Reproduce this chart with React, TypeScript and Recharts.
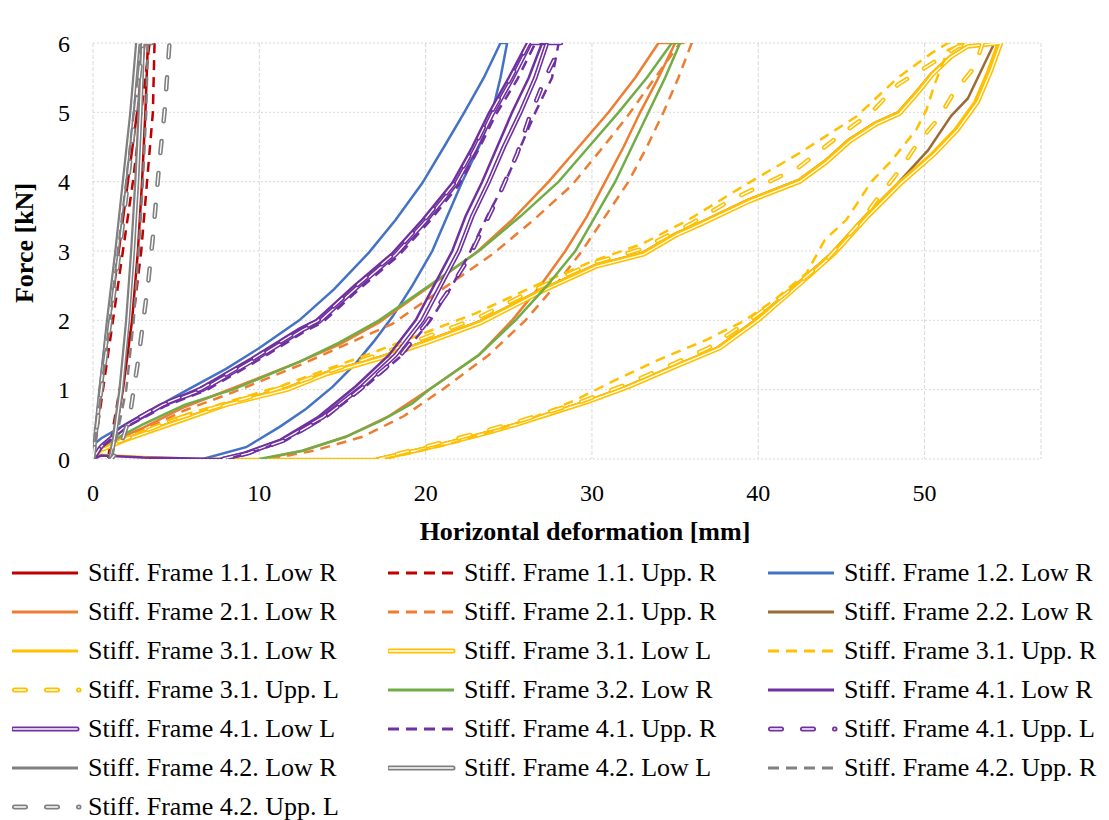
import React from 'react';
import { LineChart, Line, XAxis, YAxis, CartesianGrid } from 'recharts';

const SERIF = "'Liberation Serif', 'Times New Roman', Times, serif";

// [horizontal deformation mm, force kN] pairs
const frame11LowR = [[0, 0], [0.5, 1], [1.0, 2], [1.55, 3], [2.1, 4], [2.65, 5], [3.1, 6], [3.3, 6], [3.15, 5], [2.95, 4], [2.7, 3], [2.35, 2], [1.8, 1], [1.3, 0.3], [1.0, 0]];
const frame11UppR = [[0, 0], [0.6, 1], [1.2, 2], [1.8, 3], [2.4, 4], [2.9, 5], [3.4, 6], [3.7, 6], [3.6, 5], [3.25, 4], [2.9, 3], [2.4, 2], [1.6, 1], [1.1, 0.3], [0.9, 0]];
const frame12LowR = [[0, 0.2], [0.5, 0.3], [2.4, 0.56], [5.7, 1.0], [8, 1.3], [10, 1.6], [12.4, 2.0], [14.5, 2.45], [16.6, 2.98], [18.2, 3.45], [19.8, 3.98], [21.1, 4.5], [22.3, 4.99], [23.5, 5.5], [24.5, 6.0], [24.9, 6.0], [24.5, 5.5], [24.0, 5.0], [23.2, 4.5], [22.2, 4.0], [21.3, 3.5], [20.4, 3.0], [19.2, 2.5], [18.0, 2.05], [16.9, 1.7], [15.8, 1.38], [14.4, 1.04], [12.8, 0.72], [11.2, 0.46], [9.2, 0.17], [6.6, 0]];
const frame21LowR = [[0, 0], [0.4, 0.17], [3, 0.45], [5.5, 0.75], [8.4, 1.02], [12.4, 1.4], [14.8, 1.65], [17.2, 1.97], [20, 2.45], [23, 2.97], [25.2, 3.45], [27.4, 4.0], [29.2, 4.5], [31.0, 5.0], [32.6, 5.5], [34.0, 6.0], [35.0, 6.0], [34.0, 5.5], [32.9, 5.0], [31.9, 4.5], [30.8, 4.0], [29.7, 3.5], [28.4, 3.0], [26.9, 2.5], [25.2, 2.0], [23.2, 1.5], [20.2, 1.0], [17.8, 0.62], [15.2, 0.32], [12.6, 0.12], [10.2, 0]];
const frame21UppR = [[0, 0], [0.4, 0.15], [3, 0.42], [5.5, 0.7], [8.4, 0.96], [12.4, 1.35], [15.2, 1.65], [18, 1.95], [21, 2.45], [24, 2.95], [26.5, 3.45], [28.8, 3.95], [30.5, 4.45], [32, 4.9], [33.8, 5.5], [35.3, 6.0], [36.0, 6.0], [35.2, 5.5], [34.3, 5.0], [33.3, 4.5], [32.2, 4.0], [30.8, 3.5], [29.4, 3.0], [27.8, 2.5], [26.0, 2.0], [23.8, 1.5], [21.0, 1.0], [18.7, 0.62], [16.2, 0.32], [13.3, 0.12], [10.6, 0]];
const frame22LowR = [[0, 0.03], [0.4, 0.13], [2, 0.3], [5, 0.55], [8, 0.8], [11.6, 1.02], [14, 1.25], [17.2, 1.47], [20, 1.7], [23.2, 1.98], [25, 2.2], [27, 2.45], [30.2, 2.8], [33, 2.97], [35, 3.25], [36.4, 3.4], [39.4, 3.74], [42.4, 4.02], [44, 4.3], [45.4, 4.6], [47, 4.85], [48.4, 5.0], [49.5, 5.3], [50.4, 5.56], [51.5, 5.8], [52.5, 5.95], [54.2, 6.0], [53.6, 5.7], [52.6, 5.2], [51.6, 4.95], [50.2, 4.45], [48.4, 3.98], [46.4, 3.5], [44.4, 2.97], [42.2, 2.5], [39.8, 2.0], [37.5, 1.6], [35, 1.35], [32, 1.04], [29.5, 0.82], [27.4, 0.66], [25.3, 0.5], [23.4, 0.37], [21.3, 0.24], [19.4, 0.13], [17, 0]];
const frame31LowR = [[0, 0.03], [0.4, 0.13], [2, 0.3], [5, 0.55], [8, 0.8], [11.6, 1.02], [14, 1.25], [17.2, 1.47], [20, 1.7], [23.2, 1.98], [25, 2.2], [27, 2.45], [30.2, 2.8], [33, 2.97], [35, 3.25], [36.4, 3.4], [39.4, 3.74], [42.4, 4.02], [44, 4.3], [45.4, 4.6], [47, 4.85], [48.4, 5.0], [49.5, 5.3], [50.4, 5.56], [51.5, 5.8], [52.5, 5.95], [54.4, 6.0], [53.8, 5.6], [53.0, 5.15], [51.8, 4.75], [50.4, 4.4], [48.4, 3.98], [46.4, 3.5], [44.4, 2.97], [42.2, 2.5], [39.8, 2.0], [37.5, 1.6], [35, 1.35], [32, 1.04], [29.5, 0.82], [27.4, 0.66], [25.3, 0.5], [23.4, 0.37], [21.3, 0.24], [19.4, 0.13], [17, 0], [12, 0], [6.4, 0], [3, 0.03], [0.4, 0.06], [0, 0.03]];
const frame31LowL = [[0, 0.02], [0.4, 0.12], [2, 0.28], [5, 0.53], [8, 0.78], [11.7, 1.0], [14.1, 1.23], [17.3, 1.45], [20.1, 1.68], [23.3, 1.96], [25.1, 2.18], [27.1, 2.43], [30.3, 2.78], [33.1, 2.95], [35.1, 3.23], [36.5, 3.38], [39.5, 3.72], [42.5, 4.0], [44.1, 4.28], [45.5, 4.58], [47.1, 4.83], [48.5, 4.98], [49.6, 5.28], [50.5, 5.55], [51.6, 5.8], [52.6, 5.95], [54.6, 6.0], [54.0, 5.6], [53.2, 5.15], [52.0, 4.75], [50.6, 4.4], [48.6, 3.98], [46.6, 3.5], [44.6, 2.97], [42.4, 2.5], [40.0, 2.0], [37.7, 1.6], [35.2, 1.35], [32.2, 1.04], [29.7, 0.82], [27.6, 0.66], [25.5, 0.5], [23.6, 0.37], [21.5, 0.24], [19.6, 0.13], [17.2, 0]];
const frame31UppR = [[0, 0], [0.4, 0.15], [5, 0.6], [11.4, 1.06], [17, 1.55], [23, 2.1], [26.4, 2.48], [30, 2.85], [33, 3.1], [35.8, 3.45], [39.4, 3.98], [42.4, 4.4], [45.9, 4.94], [48.4, 5.5], [50.4, 5.85], [51.4, 6.0], [52.4, 6.0], [51.4, 5.9], [50.6, 5.4], [50.1, 5.03], [49.5, 4.75], [48, 4.3], [46.8, 4.0], [45.3, 3.45], [44, 3.16], [42.9, 2.68], [41, 2.3], [39.2, 2.0], [36.9, 1.72], [34, 1.43], [31.5, 1.15], [29, 0.85], [26.5, 0.6], [24, 0.4], [21.5, 0.22], [19, 0.08], [17.5, 0]];
const frame31UppL = [[0, 0], [0.4, 0.14], [5, 0.58], [11.5, 1.04], [17.1, 1.5], [23.1, 2.03], [26.6, 2.45], [30.1, 2.83], [33, 3.03], [36, 3.4], [38.4, 3.74], [42.4, 4.2], [44.8, 4.65], [46.8, 5.0], [48.4, 5.4], [50.8, 5.76], [52, 5.95], [53.5, 6.0], [53, 5.65], [51.8, 5.3], [50.8, 4.9], [49.6, 4.56], [48.6, 4.2], [47, 3.7], [45.9, 3.35], [44.2, 2.9], [42, 2.45], [39.6, 2.02], [37, 1.6], [34.5, 1.33], [32, 1.07], [29.5, 0.84], [27.2, 0.66], [25, 0.5], [23.2, 0.38], [21, 0.24], [19.2, 0.13], [17.2, 0]];
const frame32LowR = [[0, 0], [0.4, 0.17], [3, 0.5], [5.5, 0.78], [8.4, 1.0], [12.4, 1.4], [14.8, 1.68], [17.2, 2.0], [20.2, 2.5], [23.2, 3.0], [25.7, 3.5], [28.0, 4.0], [29.8, 4.5], [31.6, 5.0], [33.3, 5.5], [34.8, 6.0], [35.3, 6.0], [34.4, 5.5], [33.4, 5.0], [32.4, 4.5], [31.4, 4.0], [30.2, 3.5], [29.0, 3.0], [27.3, 2.5], [25.4, 2.0], [23.2, 1.5], [20.2, 1.0], [19.2, 0.8], [17.3, 0.55], [15.2, 0.32], [12.6, 0.12], [10.0, 0]];
const frame41LowR = [[0, 0], [0.5, 0.2], [2, 0.5], [4, 0.78], [6.4, 1.02], [9.5, 1.45], [12.4, 1.88], [13.4, 2.0], [15.7, 2.5], [18, 2.97], [19.8, 3.45], [21.6, 3.98], [22.8, 4.5], [23.8, 4.99], [25, 5.5], [26.1, 6.0], [27.0, 6.0], [26.2, 5.5], [25.2, 5.0], [24.3, 4.5], [23.4, 4.0], [22.4, 3.5], [21.6, 3.0], [20.5, 2.5], [19.4, 2.0], [17.8, 1.5], [15.8, 1.05], [13.5, 0.6], [11.2, 0.27], [9, 0.08], [7.6, 0], [3, 0.02], [0.5, 0.05], [0, 0]];
const frame41LowL = [[0, 0], [0.5, 0.18], [2, 0.48], [4.2, 0.78], [6.6, 1.0], [9.7, 1.43], [12.6, 1.86], [13.6, 1.98], [15.9, 2.48], [18.2, 2.95], [20.0, 3.43], [21.8, 3.96], [23.0, 4.48], [24.0, 4.97], [25.2, 5.48], [26.3, 6.0], [27.3, 6.0], [26.6, 5.5], [25.7, 5.0], [24.7, 4.5], [23.8, 4.0], [22.8, 3.5], [22.0, 3.0], [20.9, 2.5], [19.8, 2.0], [18.2, 1.5], [16.2, 1.05], [13.8, 0.6], [11.4, 0.27], [9.2, 0.08], [7.8, 0]];
const frame41UppR = [[0, 0], [0.5, 0.17], [2, 0.46], [4.3, 0.76], [6.8, 0.99], [9.9, 1.42], [12.8, 1.85], [13.8, 1.97], [16.1, 2.47], [18.4, 2.94], [20.2, 3.42], [22.0, 3.95], [23.2, 4.47], [24.2, 4.96], [25.5, 5.47], [26.6, 6.0], [28.0, 6.0], [27.6, 5.5], [26.6, 5.0], [25.7, 4.5], [24.8, 4.0], [23.7, 3.5], [22.7, 3.0], [21.6, 2.5], [20.3, 2.0], [18.6, 1.5], [16.4, 1.05], [14.0, 0.6], [11.6, 0.27], [9.4, 0.08], [8.0, 0]];
const frame41UppL = [[0, 0], [0.5, 0.19], [2, 0.49], [4.1, 0.78], [6.5, 1.01], [9.6, 1.44], [12.5, 1.87], [13.5, 1.99], [15.8, 2.49], [18.1, 2.96], [19.9, 3.44], [21.7, 3.97], [22.9, 4.49], [23.9, 4.98], [25.1, 5.49], [26.2, 6.0], [28.2, 6.0], [27.2, 5.5], [26.2, 4.9], [25.5, 4.4], [24.5, 3.85], [23.6, 3.4], [22.6, 2.9], [21.3, 2.4], [20.0, 1.95], [18.5, 1.5], [16.3, 1.05], [13.9, 0.6], [11.5, 0.27], [9.3, 0.08], [7.9, 0]];
const frame42LowR = [[0, 0], [0.4, 1], [0.85, 2], [1.35, 3], [1.8, 4], [2.25, 5], [2.6, 6], [2.9, 6], [2.75, 5], [2.55, 4], [2.3, 3], [2.0, 2], [1.6, 1], [1.2, 0.3], [1.0, 0]];
const frame42LowL = [[0, 0], [0.45, 1], [0.95, 2], [1.45, 3], [1.9, 4], [2.35, 5], [2.7, 6], [3.0, 6], [2.85, 5], [2.65, 4], [2.4, 3], [2.1, 2], [1.7, 1], [1.3, 0.3], [1.05, 0]];
const frame42UppR = [[0, 0], [0.5, 1], [1.0, 2], [1.5, 3], [2.0, 4], [2.45, 5], [2.9, 6], [3.3, 6], [3.2, 5], [3.0, 4], [2.75, 3], [2.45, 2], [2.0, 1], [1.4, 0.3], [1.1, 0]];
const frame42UppL = [[0, 0], [0.5, 1], [1.05, 2], [1.6, 3], [2.1, 4], [2.55, 5], [3.0, 6], [4.6, 6], [4.3, 5], [4.0, 4.3], [3.6, 3.2], [3.3, 2.5], [2.7, 1.4], [2.2, 0.6], [1.6, 0.15], [1.1, 0]];

const seriesNames = [
  'Stiff. Frame 1.1. Low R', 'Stiff. Frame 1.1. Upp. R', 'Stiff. Frame 1.2. Low R',
  'Stiff. Frame 2.1. Low R', 'Stiff. Frame 2.1. Upp. R', 'Stiff. Frame 2.2. Low R',
  'Stiff. Frame 3.1. Low R', 'Stiff. Frame 3.1. Low L', 'Stiff. Frame 3.1. Upp. R',
  'Stiff. Frame 3.1. Upp. L', 'Stiff. Frame 3.2. Low R', 'Stiff. Frame 4.1. Low R',
  'Stiff. Frame 4.1. Low L', 'Stiff. Frame 4.1. Upp. R', 'Stiff. Frame 4.1. Upp. L',
  'Stiff. Frame 4.2. Low R', 'Stiff. Frame 4.2. Low L', 'Stiff. Frame 4.2. Upp. R',
  'Stiff. Frame 4.2. Upp. L',
];
const seriesColors = [
  '#C00000', '#C00000', '#4472C4',
  '#ED7D31', '#ED7D31', '#9C6B35',
  '#FFC000', '#FFC000', '#FFC000',
  '#FFC000', '#70AD47', '#7030A0',
  '#7030A0', '#7030A0', '#7030A0',
  '#808080', '#808080', '#808080',
  '#808080',
];
const seriesStyles = [
  'solid', 'dash', 'solid',
  'solid', 'dash', 'solid',
  'solid', 'double', 'dash',
  'doubleDash', 'solid', 'solid',
  'double', 'dash', 'doubleDash',
  'solid', 'double', 'dash',
  'doubleDash',
];
const seriesPoints = [
  frame11LowR, frame11UppR, frame12LowR,
  frame21LowR, frame21UppR, frame22LowR,
  frame31LowR, frame31LowL, frame31UppR,
  frame31UppL, frame32LowR, frame41LowR,
  frame41LowL, frame41UppR, frame41UppL,
  frame42LowR, frame42LowL, frame42UppR,
  frame42UppL,
];

const xTicks = [0, 10, 20, 30, 40, 50];
const yTicks = [0, 1, 2, 3, 4, 5, 6];

const series = seriesNames.map((name, i) => ({
  name,
  color: seriesColors[i],
  style: seriesStyles[i],
  data: seriesPoints[i].map(([x, y]) => ({ x, y })),
}));

const renderLines = () =>
  series.flatMap((s, i) => {
    const common = { data: s.data, dataKey: 'y', type: 'linear' as const, dot: false, activeDot: false, isAnimationActive: false, legendType: 'none' as const };
    if (s.style === 'solid') {
      return [<Line key={i} {...common} stroke={s.color} strokeWidth={2.5} />];
    }
    if (s.style === 'dash') {
      return [<Line key={i} {...common} stroke={s.color} strokeWidth={2.5} strokeDasharray="10 7" />];
    }
    const dash = s.style === 'doubleDash' ? '12 20' : undefined;
    const cap = s.style === 'doubleDash' ? 'round' : 'butt';
    return [
      <Line key={i + 'a'} {...common} stroke={s.color} strokeWidth={4.5} strokeDasharray={dash} strokeLinecap={cap} />,
      <Line key={i + 'b'} {...common} stroke="#ffffff" strokeWidth={1.3} strokeDasharray={dash} strokeLinecap={cap} />,
    ];
  });

const Sample = ({ color, style }: { color: string; style: string }) => (
  <svg width={70} height={12} style={{ flex: '0 0 auto', marginRight: 6 }}>
    {style === 'solid' && <line x1={0} y1={6} x2={66} y2={6} stroke={color} strokeWidth={3} />}
    {style === 'dash' && <line x1={0} y1={6} x2={66} y2={6} stroke={color} strokeWidth={3} strokeDasharray="11 7" />}
    {style === 'double' && (
      <>
        <line x1={1.5} y1={6} x2={65} y2={6} stroke={color} strokeWidth={5} strokeLinecap="round" />
        <line x1={1.5} y1={6} x2={65} y2={6} stroke="#fff" strokeWidth={1.6} strokeLinecap="round" />
      </>
    )}
    {style === 'doubleDash' && (
      <>
        <line x1={2.5} y1={6} x2={67} y2={6} stroke={color} strokeWidth={5} strokeLinecap="round" strokeDasharray="11 21" />
        <line x1={2.5} y1={6} x2={67} y2={6} stroke="#fff" strokeWidth={1.6} strokeLinecap="round" strokeDasharray="11 21" />
      </>
    )}
  </svg>
);

const titleStyle = { fontSize: 26, fontWeight: 700, fontFamily: SERIF, fill: '#000' };

const App = () => {
  return (
    <div style={{ position: 'absolute', left: 0, top: 0, width: 1109, height: 820, background: '#fff' }}>
      <LineChart width={1109} height={552} margin={{ top: 43, right: 68, bottom: 12, left: 0 }}>
        <CartesianGrid horizontal={true} vertical={false} stroke="#d9d9d9" strokeDasharray="2 2" />
        <CartesianGrid horizontal={false} vertical={true} stroke="#d9d9d9" strokeDasharray="4 2" />
        <XAxis
          type="number"
          dataKey="x"
          domain={[0, 57]}
          ticks={xTicks}
          allowDataOverflow
          axisLine={false}
          tickLine={false}
          tickSize={0}
          tickMargin={25}
          height={81}
          tick={{ fontSize: 24, fontFamily: SERIF, fill: '#000' }}
          label={{
            content: () => (
              <text x={585} y={540} textAnchor="middle" style={titleStyle}>
                Horizontal deformation [mm]
              </text>
            ),
          }}
        />
        <YAxis
          type="number"
          domain={[0, 6]}
          ticks={yTicks}
          allowDataOverflow
          axisLine={false}
          tickLine={false}
          tickSize={0}
          tickMargin={23}
          width={93}
          tick={{ fontSize: 24, fontFamily: SERIF, fill: '#000' }}
          label={{
            content: () => (
              <text x={33} y={243} transform="rotate(-90 33 243)" textAnchor="middle" style={titleStyle}>
                Force [kN]
              </text>
            ),
          }}
        />
        {renderLines()}
      </LineChart>
      <div
        style={{
          position: 'absolute',
          left: 12,
          top: 553,
          display: 'grid',
          gridTemplateColumns: '376px 380px 341px',
          gridAutoRows: '39px',
          fontFamily: SERIF,
          fontSize: 26,
          color: '#000',
        }}
      >
        {series.map((s) => (
          <div key={s.name} style={{ display: 'flex', alignItems: 'center', whiteSpace: 'nowrap' }}>
            <Sample color={s.color} style={s.style} />
            <span>{s.name}</span>
          </div>
        ))}
      </div>
    </div>
  );
};

export default App;
